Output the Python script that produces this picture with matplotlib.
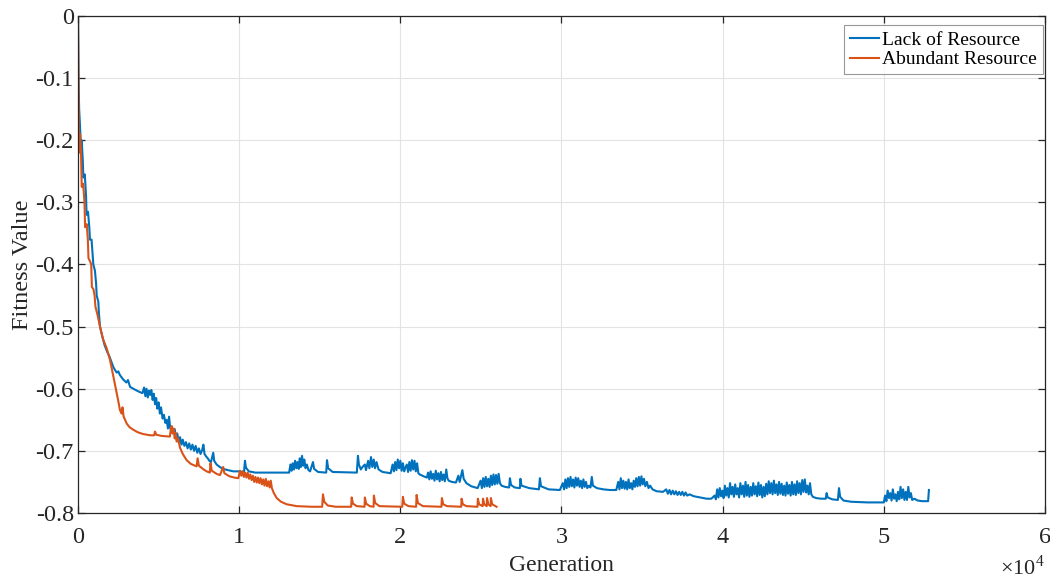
import numpy as np
import matplotlib
matplotlib.use("Agg")
import matplotlib.pyplot as plt
from matplotlib.ticker import FuncFormatter

# Fitness per generation, (generation, fitness) pairs
lack_points = [
    (0, 0.0), (30, -0.10), (70, -0.15), (110, -0.17), (170, -0.205), (230, -0.20), (300, -0.235),
    (330, -0.26), (420, -0.255), (500, -0.29), (530, -0.32), (620, -0.315), (700, -0.34),
    (740, -0.36), (840, -0.36), (920, -0.39), (950, -0.40), (1050, -0.41), (1120, -0.43),
    (1160, -0.45), (1260, -0.46), (1300, -0.48), (1365, -0.50), (1500, -0.515), (1650, -0.53),
    (1800, -0.54), (1950, -0.548), (2050, -0.555), (2190, -0.565), (2300, -0.57), (2400, -0.574),
    (2500, -0.572), (2600, -0.578), (2800, -0.585), (3000, -0.59), (3100, -0.586), (3230, -0.597),
    (3500, -0.601), (3800, -0.605), (4000, -0.607),
    (4100, -0.598), (4180, -0.612), (4250, -0.600), (4330, -0.614), (4400, -0.603), (4480, -0.610),
    (4550, -0.602), (4630, -0.618), (4700, -0.608), (4780, -0.625), (4850, -0.615), (4920, -0.632),
    (5000, -0.622), (5080, -0.640), (5150, -0.630), (5250, -0.648), (5330, -0.642), (5420, -0.655),
    (5500, -0.650), (5580, -0.664), (5650, -0.645), (5720, -0.663), (5800, -0.668), (5900, -0.672),
    (6000, -0.665), (6080, -0.680), (6160, -0.672), (6250, -0.686), (6330, -0.678), (6420, -0.690),
    (6500, -0.682), (6600, -0.692), (6700, -0.686), (6800, -0.696), (6900, -0.688), (7000, -0.698),
    (7100, -0.690), (7200, -0.700), (7300, -0.692), (7400, -0.703), (7500, -0.696), (7600, -0.705),
    (7700, -0.699), (7780, -0.690), (7850, -0.705), (7950, -0.709), (8050, -0.712), (8150, -0.716),
    (8250, -0.718), (8390, -0.703), (8450, -0.716), (8600, -0.722), (8800, -0.726), (9000, -0.729),
    (9300, -0.731), (9640, -0.733), (10000, -0.733), (10300, -0.734), (10360, -0.716), (10420, -0.727),
    (10600, -0.733), (11000, -0.735), (12000, -0.735), (13100, -0.735),
    (13180, -0.722), (13250, -0.732), (13320, -0.720), (13400, -0.730), (13470, -0.716), (13550, -0.728),
    (13620, -0.718), (13700, -0.729), (13760, -0.712), (13830, -0.726), (13900, -0.708), (13970, -0.724),
    (14040, -0.714), (14120, -0.728), (14200, -0.722), (14300, -0.731), (14400, -0.733), (14580, -0.718),
    (14650, -0.729), (14900, -0.734), (15400, -0.735), (15450, -0.715), (15520, -0.728), (15800, -0.734),
    (17300, -0.735), (17370, -0.708), (17430, -0.722), (17550, -0.730), (17650, -0.726), (17800, -0.722),
    (17870, -0.731), (18000, -0.716), (18080, -0.728), (18180, -0.710), (18260, -0.726), (18350, -0.714),
    (18430, -0.728), (18520, -0.718), (18650, -0.730), (18900, -0.734), (19400, -0.736),
    (19520, -0.722), (19600, -0.733), (19680, -0.718), (19760, -0.731), (19840, -0.714), (19920, -0.728),
    (20000, -0.716), (20080, -0.732), (20160, -0.720), (20240, -0.733), (20300, -0.728),
    (20400, -0.722), (20480, -0.734), (20560, -0.718), (20640, -0.732), (20720, -0.715), (20800, -0.730),
    (20880, -0.716), (20960, -0.733), (21040, -0.720), (21120, -0.736), (21200, -0.738), (21450, -0.741),
    (21650, -0.743),
    (21720, -0.735), (21800, -0.746), (21880, -0.733), (21960, -0.745), (22040, -0.737), (22120, -0.748),
    (22200, -0.732), (22280, -0.746), (22360, -0.736), (22440, -0.749), (22520, -0.734), (22600, -0.747),
    (22680, -0.738), (22760, -0.749), (22850, -0.730), (22920, -0.744), (23000, -0.748), (23200, -0.750),
    (23450, -0.751), (23600, -0.740), (23680, -0.750), (23850, -0.731), (23930, -0.745), (24100, -0.752),
    (24400, -0.757), (24800, -0.760),
    (24980, -0.748), (25060, -0.760), (25140, -0.744), (25220, -0.758), (25300, -0.742), (25380, -0.757),
    (25460, -0.745), (25540, -0.758), (25620, -0.740), (25700, -0.755), (25780, -0.738), (25860, -0.754),
    (25940, -0.739), (26020, -0.753), (26100, -0.737), (26180, -0.752), (26280, -0.756), (26500, -0.758),
    (26750, -0.759), (26800, -0.744), (26870, -0.755), (27100, -0.759), (27420, -0.760), (27450, -0.745),
    (27520, -0.756), (28000, -0.760), (28600, -0.762), (28660, -0.744), (28730, -0.757), (29200, -0.762),
    (29900, -0.763),
    (30080, -0.752), (30160, -0.762), (30240, -0.746), (30320, -0.760), (30400, -0.744), (30480, -0.758),
    (30560, -0.742), (30640, -0.757), (30720, -0.746), (30800, -0.759), (30880, -0.743), (30960, -0.756),
    (31040, -0.744), (31120, -0.758), (31200, -0.748), (31280, -0.760), (31360, -0.746), (31440, -0.758),
    (31520, -0.750), (31600, -0.760), (31700, -0.756), (31800, -0.759), (31880, -0.742), (31950, -0.756),
    (32200, -0.760), (32600, -0.762), (33000, -0.763), (33400, -0.763),
    (33520, -0.750), (33600, -0.762), (33680, -0.744), (33760, -0.760), (33840, -0.748), (33920, -0.761),
    (34000, -0.750), (34080, -0.762), (34160, -0.746), (34240, -0.760), (34320, -0.752), (34400, -0.762),
    (34480, -0.748), (34560, -0.758), (34640, -0.744), (34720, -0.757), (34800, -0.742), (34880, -0.756),
    (34960, -0.741), (35040, -0.754), (35120, -0.745), (35200, -0.757), (35300, -0.750), (35400, -0.760),
    (35500, -0.756), (35650, -0.762), (35900, -0.765), (36300, -0.766),
    (36500, -0.762), (36600, -0.769), (36700, -0.763), (36800, -0.770), (36900, -0.764), (37000, -0.770),
    (37100, -0.765), (37200, -0.771), (37300, -0.766), (37400, -0.771), (37500, -0.766), (37600, -0.772),
    (37700, -0.767), (37800, -0.772), (37950, -0.770), (38200, -0.773), (38600, -0.775), (39000, -0.777),
    (39300, -0.777),
    (39500, -0.772), (39580, -0.778), (39660, -0.762), (39740, -0.775), (39820, -0.760), (39900, -0.773),
    (39980, -0.764), (40060, -0.776), (40140, -0.756), (40220, -0.772), (40300, -0.760), (40380, -0.775),
    (40460, -0.752), (40540, -0.770), (40620, -0.758), (40700, -0.774), (40780, -0.754), (40860, -0.770),
    (40940, -0.760), (41020, -0.775), (41100, -0.752), (41180, -0.770), (41260, -0.756), (41340, -0.774),
    (41420, -0.750), (41500, -0.772), (41580, -0.755), (41660, -0.774), (41740, -0.758), (41820, -0.772),
    (41900, -0.752), (41980, -0.770), (42060, -0.757), (42140, -0.773), (42220, -0.751), (42300, -0.771),
    (42380, -0.755), (42460, -0.775), (42540, -0.758), (42620, -0.773), (42700, -0.753), (42780, -0.770),
    (42860, -0.749), (42940, -0.768), (43020, -0.752), (43100, -0.770), (43180, -0.748), (43260, -0.768),
    (43340, -0.754), (43420, -0.771), (43500, -0.750), (43580, -0.769), (43660, -0.753), (43740, -0.771),
    (43820, -0.756), (43900, -0.772), (43980, -0.751), (44060, -0.769), (44140, -0.755), (44220, -0.772),
    (44300, -0.750), (44380, -0.770), (44460, -0.754), (44540, -0.771), (44620, -0.749), (44700, -0.768),
    (44780, -0.752), (44860, -0.770), (44940, -0.747), (45020, -0.766), (45100, -0.746), (45180, -0.767),
    (45260, -0.756), (45340, -0.770), (45420, -0.752), (45500, -0.770), (45600, -0.774), (45800, -0.776),
    (46100, -0.777), (46400, -0.777), (46450, -0.768), (46520, -0.775), (46800, -0.778), (47150, -0.779),
    (47220, -0.760), (47290, -0.774), (47500, -0.780), (48000, -0.782), (49000, -0.783), (50000, -0.783),
    (50080, -0.772), (50160, -0.781), (50240, -0.764), (50320, -0.776), (50400, -0.768), (50480, -0.780),
    (50560, -0.762), (50640, -0.777), (50720, -0.770), (50800, -0.781), (50880, -0.766), (50960, -0.778),
    (51040, -0.758), (51120, -0.776), (51200, -0.762), (51280, -0.779), (51360, -0.766), (51440, -0.779),
    (51520, -0.758), (51600, -0.775), (51680, -0.768), (51760, -0.779), (51900, -0.777), (52100, -0.780),
    (52400, -0.781), (52750, -0.781), (52800, -0.763),
]

abundant_points = [
    (0, 0.0), (30, -0.10), (60, -0.22), (130, -0.19), (190, -0.225), (230, -0.275), (320, -0.27),
    (400, -0.30), (440, -0.34), (540, -0.335), (610, -0.36), (650, -0.39), (750, -0.395), (820, -0.40),
    (860, -0.436), (960, -0.44), (1030, -0.45), (1080, -0.468), (1200, -0.48), (1365, -0.50),
    (1550, -0.52), (1780, -0.535), (1990, -0.554), (2100, -0.568), (2190, -0.580), (2300, -0.594),
    (2400, -0.607), (2500, -0.620), (2600, -0.634), (2700, -0.640), (2760, -0.630), (2830, -0.645),
    (2920, -0.650), (3020, -0.656), (3200, -0.662), (3430, -0.666), (3700, -0.670), (4050, -0.673),
    (4500, -0.675), (4720, -0.675), (4780, -0.669), (4850, -0.674), (5200, -0.676), (5700, -0.677),
    (5760, -0.665), (5810, -0.660), (5870, -0.672), (5930, -0.664), (6000, -0.680), (6060, -0.671),
    (6120, -0.685), (6200, -0.680), (6330, -0.695), (6500, -0.705), (6740, -0.715), (7000, -0.721),
    (7360, -0.725), (7420, -0.712), (7500, -0.724), (7800, -0.730), (7980, -0.733), (8180, -0.735),
    (8220, -0.720), (8300, -0.732), (8600, -0.737), (8810, -0.739), (9010, -0.726), (9080, -0.736),
    (9400, -0.741), (9700, -0.743), (9950, -0.744),
    (10050, -0.732), (10130, -0.740), (10210, -0.733), (10290, -0.742), (10370, -0.735), (10450, -0.743),
    (10530, -0.735), (10610, -0.745), (10690, -0.738), (10770, -0.747), (10850, -0.740), (10930, -0.750),
    (11010, -0.742), (11090, -0.751), (11170, -0.743), (11250, -0.752), (11330, -0.744), (11410, -0.754),
    (11490, -0.746), (11570, -0.756), (11650, -0.745), (11730, -0.757), (11810, -0.749), (11890, -0.759),
    (11960, -0.748), (12030, -0.760), (12150, -0.768), (12330, -0.776), (12600, -0.782), (12950, -0.786),
    (13570, -0.789), (14500, -0.790), (15150, -0.790),
    (15200, -0.770), (15280, -0.782), (15500, -0.788), (16000, -0.790), (16950, -0.790), (16980, -0.775),
    (17060, -0.785), (17300, -0.789), (17780, -0.790), (17800, -0.775), (17880, -0.785), (18100, -0.789),
    (18340, -0.790), (18360, -0.772), (18440, -0.784), (18700, -0.789), (20120, -0.790), (20160, -0.774),
    (20240, -0.785), (20500, -0.789), (20980, -0.790), (21010, -0.771), (21090, -0.784), (21400, -0.789),
    (22550, -0.790), (22580, -0.776), (22660, -0.786), (22900, -0.789), (23780, -0.790), (23800, -0.777),
    (23880, -0.786), (24100, -0.789), (24790, -0.790), (24810, -0.777), (24890, -0.786), (25110, -0.789),
    (25130, -0.777), (25210, -0.786), (25360, -0.789), (25380, -0.776), (25460, -0.786), (25600, -0.789),
    (25620, -0.776), (25700, -0.786), (25970, -0.790),
]

x_ticks = [0, 10000, 20000, 30000, 40000, 50000, 60000]
y_ticks = [-0.8, -0.7, -0.6, -0.5, -0.4, -0.3, -0.2, -0.1, 0]

lack_gen, lack_fit = np.array(lack_points).T
abundant_gen, abundant_fit = np.array(abundant_points).T

plt.rcParams['font.family'] = ['Liberation Serif', 'DejaVu Serif']
plt.rcParams['mathtext.fontset'] = 'custom'
plt.rcParams['mathtext.rm'] = 'Liberation Serif'

axis_color = '#262626'

fig = plt.figure(figsize=(10.5, 5.78), dpi=100)
ax = fig.add_axes([0.0743, 0.1125, 0.9209, 0.8598])

ax.plot(lack_gen, lack_fit, color='#0072BD', linewidth=1.5, label='Lack of Resource')
ax.plot(abundant_gen, abundant_fit, color='#D95319', linewidth=1.5, label='Abundant Resource')

ax.set_xlim(0, 60000)
ax.set_ylim(-0.8, 0)
ax.set_xticks(x_ticks)
ax.set_yticks(y_ticks)
ax.xaxis.set_major_formatter(FuncFormatter(lambda v, p: '%g' % (v / 1e4)))
ax.yaxis.set_major_formatter(FuncFormatter(lambda v, p: '%g' % v))

ax.grid(True, color='#e3e3e3', linewidth=0.8)
ax.set_axisbelow(True)
for spine in ax.spines.values():
    spine.set_color(axis_color)
    spine.set_linewidth(0.9)
ax.tick_params(direction='in', length=5, width=0.9, color=axis_color,
               top=True, right=True, labelsize=17.5, labelcolor=axis_color)
ax.tick_params(axis='x', pad=10)
ax.tick_params(axis='y', pad=3)

ax.set_xlabel('Generation', fontsize=17, color=axis_color, labelpad=5)
ax.set_ylabel('Fitness Value', fontsize=17.5, color=axis_color, labelpad=1.5)

ax.text(1.0, -0.085, r'$\times10^{4}$', transform=ax.transAxes, ha='right', va='top',
        fontsize=16, color=axis_color)

leg = ax.legend(loc='upper right', bbox_to_anchor=(0.9975, 0.981), borderaxespad=0,
                fontsize=14, frameon=True, fancybox=False, edgecolor='#7f7f7f',
                handlelength=1.5, handletextpad=0.15, borderpad=0.3, labelspacing=0.1)
leg.get_frame().set_linewidth(0.8)

fig.savefig('out.png', dpi=100)
